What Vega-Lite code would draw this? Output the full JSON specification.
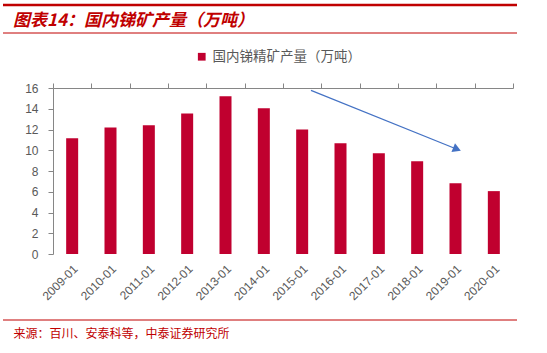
{
  "$schema": "https://vega.github.io/schema/vega-lite/v6.json",
  "autosize": "none",
  "width": 460,
  "height": 166,
  "padding": {"left": 53, "top": 88, "right": 34, "bottom": 99},
  "background": "white",
  "config": {"view": {"stroke": null}, "font": "Liberation Sans"},
  "title": {
    "text": "图表14：国内锑矿产量（万吨）",
    "anchor": "start",
    "frame": "group",
    "dx": -40,
    "offset": -26,
    "fontSize": 17,
    "fontStyle": "italic",
    "fontWeight": "bold",
    "color": "#C00000",
    "font": "Noto Sans CJK SC"
  },
  "resolve": {"scale": {"x": "independent"}, "axis": {"x": "independent"}},
  "layer": [
    {
      "data": {"values": [
        {"date": "2009-01", "value": 11.15, "series": "国内锑精矿产量（万吨）"},
        {"date": "2010-01", "value": 12.2, "series": "国内锑精矿产量（万吨）"},
        {"date": "2011-01", "value": 12.4, "series": "国内锑精矿产量（万吨）"},
        {"date": "2012-01", "value": 13.55, "series": "国内锑精矿产量（万吨）"},
        {"date": "2013-01", "value": 15.2, "series": "国内锑精矿产量（万吨）"},
        {"date": "2014-01", "value": 14.04, "series": "国内锑精矿产量（万吨）"},
        {"date": "2015-01", "value": 12.0, "series": "国内锑精矿产量（万吨）"},
        {"date": "2016-01", "value": 10.67, "series": "国内锑精矿产量（万吨）"},
        {"date": "2017-01", "value": 9.7, "series": "国内锑精矿产量（万吨）"},
        {"date": "2018-01", "value": 8.94, "series": "国内锑精矿产量（万吨）"},
        {"date": "2019-01", "value": 6.83, "series": "国内锑精矿产量（万吨）"},
        {"date": "2020-01", "value": 6.06, "series": "国内锑精矿产量（万吨）"}
      ]},
      "mark": {"type": "bar", "width": 12},
      "encoding": {
        "x": {
          "field": "date", "type": "nominal", "sort": null,
          "scale": {"paddingInner": 0, "paddingOuter": 0},
          "axis": {
            "title": "来源：百川、安泰科等，中泰证券研究所",
            "titleAnchor": "start",
            "titleAlign": "left",
            "titleX": -40,
            "titleY": 79,
            "titleBaseline": "middle",
            "titleColor": "#C00000",
            "titleFont": "Noto Sans CJK SC",
            "titleFontSize": 12,
            "titleFontWeight": "normal",
            "labelAngle": -45,
            "labelFontSize": 12,
            "labelColor": "#595959",
            "labelPadding": 9,
            "labelOverlap": false,
            "ticks": false,
            "domain": false
          }
        },
        "y": {
          "field": "value", "type": "quantitative",
          "scale": {"domain": [0, 16]},
          "axis": {
            "title": null,
            "values": [0, 2, 4, 6, 8, 10, 12, 14, 16],
            "labelOverlap": false,
            "grid": false,
            "labelFontSize": 12,
            "labelColor": "#595959",
            "labelPadding": 10,
            "tickSize": 5,
            "tickColor": "#868686",
            "domainColor": "#868686"
          }
        },
        "color": {
          "field": "series", "type": "nominal",
          "scale": {"range": ["#C0002F"]},
          "legend": {
            "title": null,
            "orient": "none",
            "legendX": 142,
            "legendY": -38,
            "symbolType": "square",
            "symbolSize": 60,
            "labelFontSize": 13.5,
            "labelColor": "#595959",
            "labelFont": "Noto Sans CJK SC"
          }
        }
      }
    },
    {
      "data": {"values": [
        {"pos": 6.73, "val": 15.77},
        {"pos": 10.54, "val": 10.1}
      ]},
      "mark": {"type": "line", "color": "#4472C4", "strokeWidth": 1.2},
      "encoding": {
        "x": {
          "field": "pos", "type": "quantitative",
          "scale": {"domain": [0, 12], "nice": false, "zero": false},
          "axis": {
            "values": [0, 1, 2, 3, 4, 5, 6, 7, 8, 9, 10, 11, 12],
            "labels": false,
            "title": null,
            "grid": false,
            "tickSize": 5,
            "tickColor": "#868686",
            "domainColor": "#868686"
          }
        },
        "y": {
          "field": "val", "type": "quantitative",
          "axis": {
            "title": null,
            "values": [0, 2, 4, 6, 8, 10, 12, 14, 16],
            "labelOverlap": false,
            "grid": false,
            "labelFontSize": 12,
            "labelColor": "#595959",
            "labelPadding": 10,
            "tickSize": 5,
            "tickColor": "#868686",
            "domainColor": "#868686"
          }
        }
      }
    },
    {
      "data": {"values": [{"pos": 10.54, "val": 10.1}]},
      "mark": {"type": "point", "shape": "triangle-right", "filled": true, "color": "#4472C4", "opacity": 1, "size": 90, "angle": 22},
      "encoding": {
        "x": {"field": "pos", "type": "quantitative", "scale": {"domain": [0, 12], "nice": false, "zero": false}, "axis": null},
        "y": {
          "field": "val", "type": "quantitative",
          "axis": {
            "title": null,
            "values": [0, 2, 4, 6, 8, 10, 12, 14, 16],
            "labelOverlap": false,
            "grid": false,
            "labelFontSize": 12,
            "labelColor": "#595959",
            "labelPadding": 10,
            "tickSize": 5,
            "tickColor": "#868686",
            "domainColor": "#868686"
          }
        }
      }
    },
    {
      "data": {"values": [{}]},
      "mark": {"type": "rule", "color": "#C00000", "strokeWidth": 2.5},
      "encoding": {"x": {"value": -50}, "x2": {"value": 464}, "y": {"value": -83}}
    },
    {
      "data": {"values": [{}]},
      "mark": {"type": "rule", "color": "#C00000", "strokeWidth": 1},
      "encoding": {"x": {"value": -50}, "x2": {"value": 464}, "y": {"value": -55}}
    },
    {
      "data": {"values": [{}]},
      "mark": {"type": "rule", "color": "#C00000", "strokeWidth": 1},
      "encoding": {"x": {"value": -50}, "x2": {"value": 464}, "y": {"value": 232}}
    }
  ]
}
